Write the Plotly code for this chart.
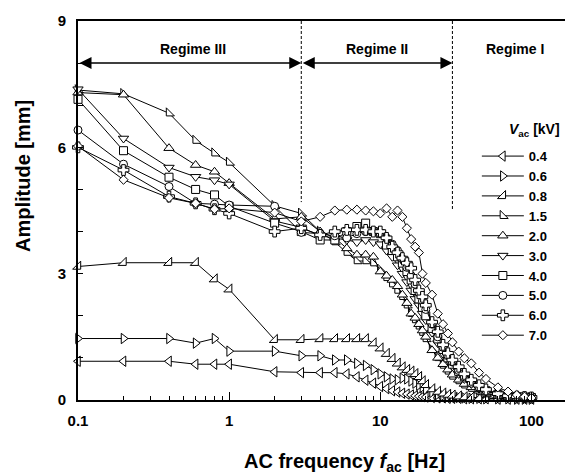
import math
import plotly.graph_objects as go

# Frequencies [Hz]
FREQ = [0.1, 0.2, 0.4, 0.6, 0.8, 1, 2, 3, 4, 5, 6, 7, 8, 9, 10, 11, 12, 13, 14, 15,
        16, 17, 18, 19, 20, 22, 24, 26, 28, 30, 33, 36, 40, 45, 50, 60, 70, 80, 90, 100]

VAC_LABELS = ["0.4", "0.6", "0.8", "1.5", "2.0", "3.0", "4.0", "5.0", "6.0", "7.0"]

A_04 = [0.92, 0.92, 0.92, 0.85, 0.85, 0.85, 0.67, 0.65, 0.65, 0.65, 0.62, 0.55, 0.47, 0.40, 0.32, 0.27, 0.22, 0.19, 0.16, 0.14,
        0.12, 0.10, 0.09, 0.08, 0.07, 0.06, 0.05, 0.05, 0.04, 0.04, 0.04, 0.03, 0.03, 0.03, 0.03, 0.02, 0.02, 0.02, 0.02, 0.02]
A_06 = [1.46, 1.46, 1.46, 1.35, 1.46, 1.16, 1.16, 1.05, 1.05, 0.95, 0.95, 0.87, 0.82, 0.72, 0.62, 0.55, 0.50, 0.48, 0.52, 0.50,
        0.45, 0.40, 0.35, 0.30, 0.25, 0.18, 0.13, 0.10, 0.08, 0.07, 0.06, 0.05, 0.04, 0.04, 0.03, 0.03, 0.03, 0.02, 0.02, 0.02]
A_08 = [3.17, 3.26, 3.26, 3.26, 2.87, 2.63, 1.43, 1.43, 1.45, 1.45, 1.45, 1.45, 1.45, 1.35, 1.23, 1.10, 0.98, 0.87, 0.78, 0.72,
        0.68, 0.62, 0.55, 0.45, 0.36, 0.26, 0.20, 0.16, 0.13, 0.11, 0.09, 0.07, 0.06, 0.05, 0.04, 0.04, 0.03, 0.03, 0.03, 0.02]
A_15 = [7.36, 7.27, 6.81, 6.16, 5.86, 5.64, 4.61, 4.43, 4.00, 3.75, 3.50, 3.30, 3.30, 3.25, 3.10, 2.90, 2.75, 2.60, 2.45, 2.25,
        2.05, 1.90, 1.75, 1.60, 1.45, 1.20, 1.00, 0.82, 0.68, 0.56, 0.45, 0.35, 0.27, 0.20, 0.14, 0.10, 0.07, 0.05, 0.05, 0.05]
A_20 = [7.30, 7.25, 5.98, 5.58, 5.42, 5.15, 4.30, 4.35, 4.00, 3.85, 3.60, 3.45, 3.45, 3.40, 3.05, 2.95, 2.85, 2.70, 2.50, 2.30,
        2.05, 1.95, 1.80, 1.65, 1.50, 1.18, 1.00, 0.85, 0.72, 0.60, 0.48, 0.38, 0.30, 0.22, 0.15, 0.10, 0.07, 0.05, 0.05, 0.05]
A_30 = [7.38, 6.21, 5.52, 5.30, 5.22, 5.12, 4.25, 4.10, 3.90, 3.85, 3.80, 3.75, 3.80, 3.75, 3.70, 3.55, 3.40, 3.20, 3.00, 2.80,
        2.60, 2.40, 2.25, 2.05, 1.90, 1.60, 1.35, 1.10, 0.95, 0.80, 0.62, 0.50, 0.38, 0.27, 0.20, 0.13, 0.09, 0.07, 0.06, 0.05]
A_40 = [7.14, 5.92, 5.29, 5.00, 4.87, 4.60, 4.20, 4.00, 3.80, 3.80, 4.00, 4.12, 4.20, 4.00, 3.95, 3.68, 3.55, 3.40, 3.25, 3.05,
        2.85, 2.60, 2.40, 2.20, 2.00, 1.70, 1.45, 1.20, 1.00, 0.85, 0.68, 0.55, 0.42, 0.30, 0.22, 0.14, 0.10, 0.08, 0.07, 0.06]
A_50 = [6.41, 5.60, 5.07, 4.67, 4.65, 4.63, 4.60, 3.98, 3.95, 3.90, 3.85, 3.95, 4.00, 4.00, 3.95, 3.85, 3.70, 3.55, 3.35, 3.15,
        2.95, 2.75, 2.55, 2.35, 2.15, 1.80, 1.50, 1.25, 1.05, 0.90, 0.70, 0.55, 0.40, 0.30, 0.22, 0.15, 0.10, 0.08, 0.06, 0.05]
A_60 = [6.00, 5.46, 4.83, 4.67, 4.53, 4.43, 4.00, 4.08, 3.92, 4.00, 4.04, 4.04, 4.04, 4.00, 4.00, 3.85, 3.64, 3.50, 3.37, 3.25,
        3.13, 2.85, 2.60, 2.45, 2.25, 1.85, 1.62, 1.31, 1.11, 0.95, 0.79, 0.62, 0.48, 0.35, 0.25, 0.15, 0.10, 0.08, 0.07, 0.06]
A_70 = [6.03, 5.23, 4.80, 4.67, 4.53, 4.55, 4.45, 4.24, 4.35, 4.50, 4.52, 4.52, 4.50, 4.48, 4.43, 4.55, 4.35, 4.50, 4.35, 4.08,
        3.82, 3.64, 3.50, 3.00, 2.78, 2.50, 2.05, 1.80, 1.58, 1.37, 1.15, 0.99, 0.87, 0.65, 0.50, 0.30, 0.20, 0.12, 0.08, 0.05]

SERIES = [A_04, A_06, A_08, A_15, A_20, A_30, A_40, A_50, A_60, A_70]
SYMBOLS = ["triangle-left", "triangle-right", "triangle-se", "triangle-sw", "triangle-up",
           "triangle-down", "square", "circle", "cross", "diamond"]
SIZES = [9, 9, 9, 9, 9, 9, 8, 8, 9, 7]

FONT = "Liberation Sans, Arial, sans-serif"

fig = go.Figure()
for lab, vals, sym, sz in zip(VAC_LABELS, SERIES, SYMBOLS, SIZES):
    fig.add_trace(go.Scatter(
        x=FREQ, y=vals, name=lab, mode="lines+markers",
        line=dict(color="black", width=1),
        marker=dict(symbol=sym, size=sz, color="white", line=dict(color="black", width=1)),
        cliponaxis=False,
    ))

minor_x = [m * d for d in (0.1, 1, 10) for m in range(2, 10)]

fig.update_layout(
    width=565, height=476,
    margin=dict(l=78, r=0, t=21, b=76, autoexpand=False),
    paper_bgcolor="white", plot_bgcolor="white",
    font=dict(family=FONT, size=14, color="black"),
    showlegend=True,
    legend=dict(x=0.819, y=0.683, xanchor="left", yanchor="top",
                font=dict(family=FONT, size=13, color="black", weight="bold"),
                bgcolor="rgba(0,0,0,0)", tracegroupgap=0, itemwidth=42),
    xaxis=dict(type="log", range=[-1, math.log10(166.7)], automargin=False,
               showline=True, linecolor="black", linewidth=2, mirror=True,
               showgrid=False, zeroline=False,
               tickvals=[0.1, 1, 10, 100], ticktext=["0.1", "1", "10", "100"],
               ticks="inside", ticklen=8, tickwidth=1, tickcolor="black",
               tickfont=dict(family=FONT, size=15, color="black", weight="bold"),
               ticklabelstandoff=6,
               minor=dict(tickvals=minor_x, ticks="inside", ticklen=4, tickwidth=1, tickcolor="black")),
    yaxis=dict(range=[0, 9], automargin=False, showline=True, linecolor="black", linewidth=2, mirror=False,
               showgrid=False, zeroline=False,
               tickvals=[0, 3, 6, 9], ticktext=["0", "3", "6", "9"],
               ticks="inside", ticklen=5, tickwidth=1, tickcolor="black",
               tickfont=dict(family=FONT, size=15, color="black", weight="bold"),
               ticklabelstandoff=7,
               minor=dict(tickvals=[1, 2, 4, 5, 7, 8], ticks="inside", ticklen=5, tickwidth=1, tickcolor="black")),
)

# regime boundary dashed lines
for xb, ytop in ((3, 4.7), (30, 4.5)):
    fig.add_shape(type="line", xref="x", yref="y", x0=xb, x1=xb, y0=9, y1=ytop,
                  line=dict(color="black", width=1, dash="3px,2px"))

# regime arrows
for a, b in ((0.1, 3), (3, 30)):
    fig.add_annotation(x=math.log10(b), y=8.0, ax=math.log10(a), ay=8.0,
                       xref="x", yref="y", axref="x", ayref="y", text="",
                       showarrow=True, arrowside="end+start", arrowhead=2,
                       arrowsize=1.6, arrowwidth=1.5, arrowcolor="black",
                       standoff=0, startstandoff=0)

for txt, xc in (("Regime III", 0.237), ("Regime II", 0.614), ("Regime I", 0.897)):
    fig.add_annotation(x=xc, y=8.34, xref="paper", yref="y", xanchor="center", yanchor="middle",
                       text="<b>%s</b>" % txt, showarrow=False,
                       font=dict(family=FONT, size=14, color="black"))

# legend title
fig.add_annotation(x=0.881, y=0.712, xref="paper", yref="paper", xanchor="left", yanchor="middle",
                   text="<b><i>V</i><sub>ac</sub> [kV]</b>", showarrow=False,
                   font=dict(family=FONT, size=14, color="black"))

# axis titles
fig.add_annotation(x=-0.113, y=0.591, xref="paper", yref="paper", xanchor="center", yanchor="middle",
                   textangle=-90, text="<b>Amplitude [mm]</b>", showarrow=False,
                   font=dict(family=FONT, size=20, color="black"))
fig.add_annotation(x=0.548, y=-0.166, xref="paper", yref="paper", xanchor="center", yanchor="middle",
                   text="<b>AC frequency <i>f</i><sub>ac</sub> [Hz]</b>", showarrow=False,
                   font=dict(family=FONT, size=20, color="black"))

fig.write_html("out.html", config={"displayModeBar": False},
               post_script="document.body.style.margin='0';document.body.style.overflow='hidden';")
